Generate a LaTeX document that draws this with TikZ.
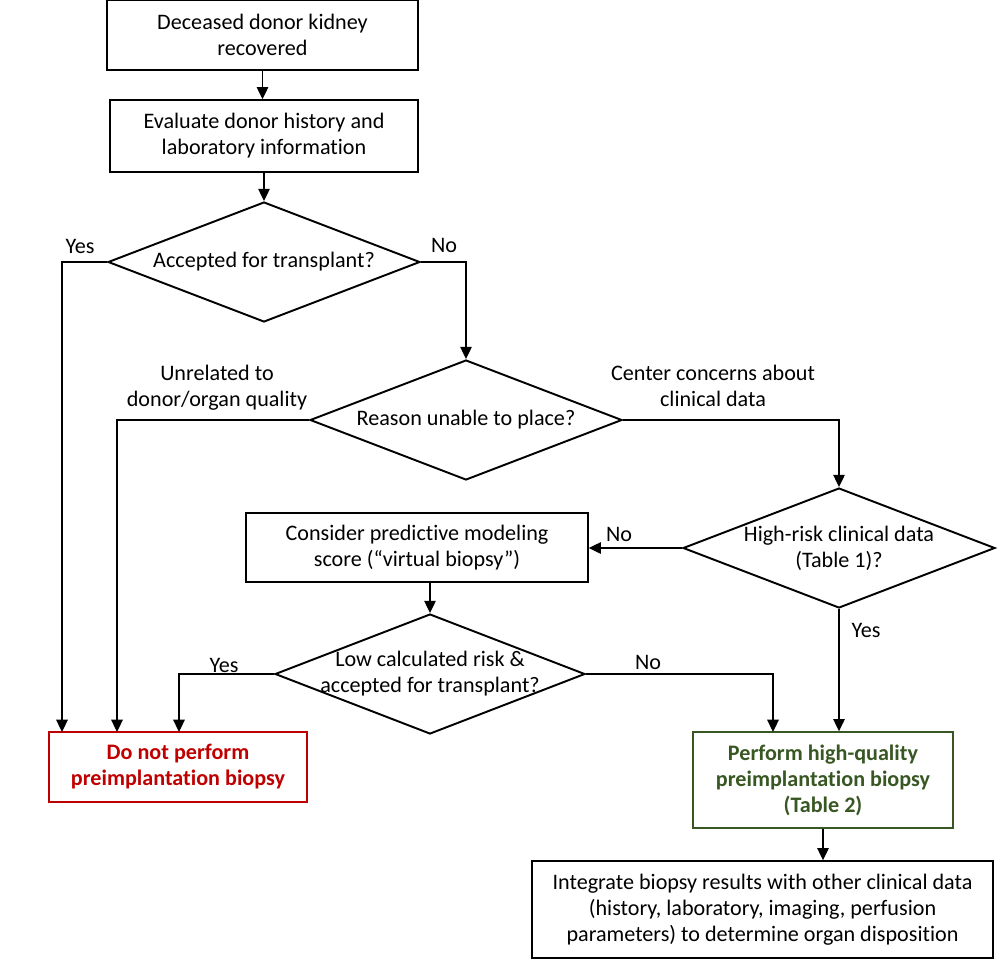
\documentclass[tikz,border=0pt]{standalone}
\usepackage{fontspec}
\setmainfont{Carlito}[Ligatures=NoCommon]
\usetikzlibrary{shapes.geometric, arrows.meta}
\definecolor{stopred}{RGB}{192,0,0}
\definecolor{gogreen}{RGB}{56,87,35}

\begin{document}
\begin{tikzpicture}[x=0.02cm, y=-0.02cm,
    every node/.style={font=\fontsize{12.6}{14.8}\selectfont},
    stepbox/.style={draw, line width=0.8pt, align=center, inner sep=2pt},
    decide/.style={draw, diamond, line width=1.1pt, align=center, aspect=2.6,
        inner sep=0pt, minimum width=6.24cm, minimum height=2.4cm},
    arr/.style={line width=1pt, -{Triangle[length=7pt, width=6.5pt]}}]
  \useasboundingbox (0,0) rectangle (1000,964);

  % boxes and decisions
  \node[stepbox, minimum width=6.22cm, minimum height=1.4cm] (recover) at (262.5,35)
        {Deceased donor kidney\\recovered};
  \node[stepbox, minimum width=6.16cm, minimum height=1.44cm] (history) at (264,136)
        {Evaluate donor history and\\laboratory information};
  \node[decide] (accept) at (264,262) {Accepted for transplant?};
  \node[decide] (reason) at (466,420) {Reason unable to place?};
  \node[decide] (highrisk) at (839,548) {High-risk clinical data\\(Table 1)?};
  \node[stepbox, minimum width=6.84cm, minimum height=1.38cm] (virtual) at (417,547.5)
        {Consider predictive modeling\\score (“virtual biopsy”)};
  \node[decide, minimum width=6.2cm, inner xsep=-8pt] (lowrisk) at (430,674)
        {Low calculated risk \&\\accepted for transplant?};
  \node[stepbox, draw=stopred, text=stopred, minimum width=5.16cm, minimum height=1.4cm,
        font=\fontsize{12.6}{14.8}\selectfont\bfseries] (nobiopsy) at (178,767)
        {Do not perform\\preimplantation biopsy};
  \node[stepbox, draw=gogreen, text=gogreen, minimum width=5.2cm, minimum height=1.92cm,
        font=\fontsize{12.6}{14.8}\selectfont\bfseries] (biopsy) at (823,780)
        {Perform high-quality\\preimplantation biopsy\\(Table 2)};
  \node[stepbox, minimum width=9.22cm, minimum height=1.94cm] (integrate) at (762.5,909.5)
        {Integrate biopsy results with other clinical data\\(history, laboratory, imaging, perfusion\\parameters) to determine organ disposition};

  % where the side branches land
  \coordinate (inA) at (62,732);
  \coordinate (inB) at (117,732);
  \coordinate (inC) at (179,732);
  \coordinate (inD) at (773,732);

  % connectors
  \draw[arr] (recover.south) -- (recover.south |- history.north);
  \draw[arr] (history.south) -- (history.south |- accept.north);
  \draw[arr] (accept.west) -| (inA);
  \draw[arr] (accept.east) -| (reason.north);
  \draw[arr] (reason.west) -| (inB);
  \draw[arr] (reason.east) -| (highrisk.north);
  \draw[arr] (highrisk.west) -- (virtual.east |- highrisk.west);
  \draw[arr] (highrisk.south) -- (highrisk.south |- biopsy.north);
  \draw[arr] (virtual.south -| lowrisk.north) -- (lowrisk.north);
  \draw[arr] (lowrisk.west) -| (inC);
  \draw[arr] (lowrisk.east) -| (inD);
  \draw[arr] (biopsy.south) -- (biopsy.south |- integrate.north);

  % branch labels
  \node (yes1) at (80,246) {Yes};
  \node (no1) at (444,245) {No};
  \node[align=center] (unrelated) at (217,388) {Unrelated to\\donor/organ quality};
  \node[align=center] (concerns) at (713,386) {Center concerns about\\clinical data};
  \node (no3) at (619,534) {No};
  \node (yes3) at (866,630) {Yes};
  \node (yes4) at (224,665) {Yes};
  \node (no4) at (648,662) {No};
\end{tikzpicture}
\end{document}
